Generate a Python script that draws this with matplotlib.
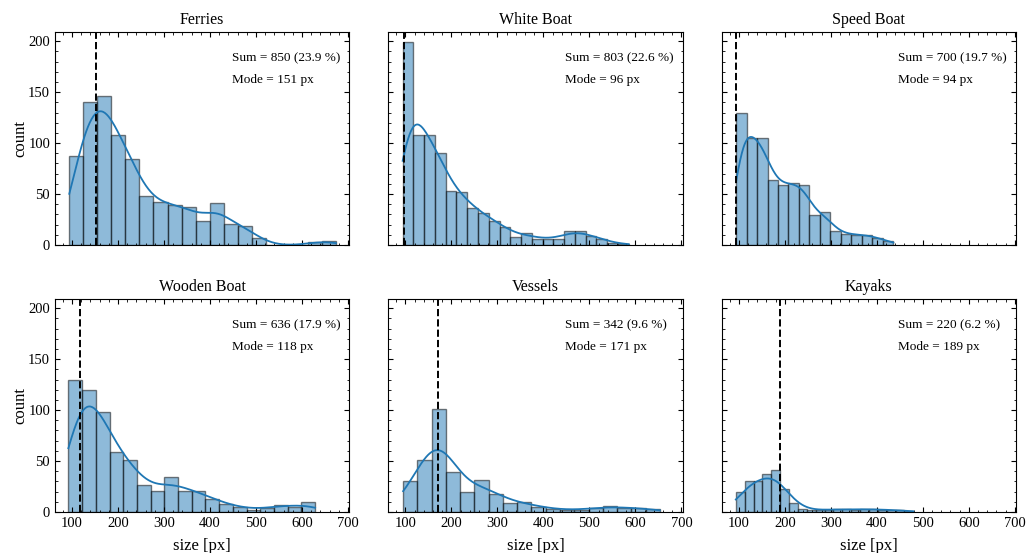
import numpy as np
import matplotlib
matplotlib.use("Agg")
import matplotlib.pyplot as plt
from matplotlib.ticker import MultipleLocator

plt.rcParams['font.family'] = ['Liberation Serif', 'DejaVu Serif']
plt.rcParams['xtick.direction'] = 'in'
plt.rcParams['ytick.direction'] = 'in'
plt.rcParams['xtick.top'] = True
plt.rcParams['ytick.right'] = True
plt.rcParams['xtick.major.size'] = 3.5
plt.rcParams['ytick.major.size'] = 3.5
plt.rcParams['xtick.minor.size'] = 1.8
plt.rcParams['ytick.minor.size'] = 1.8
plt.rcParams['axes.linewidth'] = 0.8

# one histogram per class: first bin edge, bin width, counts per bin
classes = ['Ferries', 'White Boat', 'Speed Boat', 'Wooden Boat', 'Vessels', 'Kayaks']
bin_start = [94, 94, 94, 92, 95, 93.5]
bin_width = [30.5, 23.4, 22.8, 29.8, 31.0, 19.3]
counts = [
    [87, 140, 146, 108, 84, 48, 42, 39, 37, 24, 41, 21, 19, 7, 0, 0, 0, 3, 4],
    [199, 108, 108, 90, 53, 52, 36, 31, 24, 18, 8, 12, 6, 6, 6, 14, 14, 9, 6, 2, 1],
    [130, 105, 105, 64, 59, 61, 59, 29, 32, 14, 11, 10, 10, 7, 4],
    [130, 120, 98, 59, 51, 27, 21, 34, 21, 21, 13, 8, 5, 2, 4, 7, 5, 10],
    [30, 51, 101, 39, 20, 31, 18, 9, 10, 5, 3, 2, 2, 4, 6, 4, 4, 3],
    [20, 30, 30, 37, 41, 23, 9, 3, 2, 2, 2, 3, 3, 2, 3, 3, 2, 2, 2, 1],
]
modes = [151, 96, 94, 118, 171, 189]

total = sum(sum(c) for c in counts)

fig, axes = plt.subplots(2, 3, figsize=(10.3, 5.53), dpi=100, sharex=True, sharey=True)
fig.subplots_adjust(left=0.0534, right=0.9864, top=0.942, bottom=0.0741,
                    wspace=0.133, hspace=0.254)

for i, ax in enumerate(axes.flat):
    c = np.array(counts[i])
    edges = bin_start[i] + bin_width[i] * np.arange(len(c) + 1)
    ax.bar(edges[:-1], c, width=bin_width[i], align='edge', color='#1f77b4',
           alpha=0.5, edgecolor='black', linewidth=1.0)

    # kde (scott) from binned values, scaled to counts like seaborn
    x = np.repeat(0.5 * (edges[:-1] + edges[1:]), c)
    n = len(x)
    bw = x.std(ddof=1) * n ** (-1 / 5)
    grid = np.linspace(edges[0], edges[-1], 300)
    dens = np.exp(-0.5 * ((grid[:, None] - x[None, :]) / bw) ** 2).sum(1) / (n * bw * np.sqrt(2 * np.pi))
    ax.plot(grid, dens * n * bin_width[i], color='#1f77b4', lw=1.3)

    ax.axvline(modes[i], color='black', ls='--', lw=1.4)
    s = sum(counts[i])
    ax.text(0.6, 0.878, 'Sum = %d (%.1f %%)' % (s, 100 * s / total), transform=ax.transAxes,
            fontsize=9.5, va='center')
    ax.text(0.6, 0.775, 'Mode = %d px' % modes[i], transform=ax.transAxes,
            fontsize=9.5, va='center')
    ax.set_title(classes[i], fontsize=11.5)
    ax.xaxis.set_major_locator(MultipleLocator(100))
    ax.xaxis.set_minor_locator(MultipleLocator(20))
    ax.yaxis.set_major_locator(MultipleLocator(50))
    ax.yaxis.set_minor_locator(MultipleLocator(10))
    ax.tick_params(labelsize=10.5)
    if i % 3 == 0:
        ax.set_ylabel('count', fontsize=12)
        ax.yaxis.set_label_coords(-0.09, 0.5)
    if i >= 3:
        ax.set_xlabel('size [px]', fontsize=12, labelpad=6)

plt.savefig('out.png')
